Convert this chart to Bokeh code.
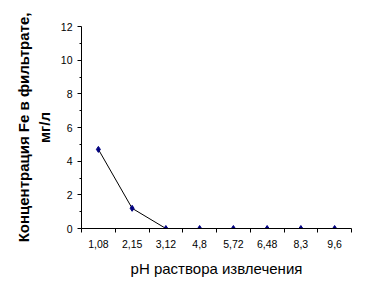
from bokeh.plotting import figure
from bokeh.models import FixedTicker, Range1d, ColumnDataSource
from bokeh.embed import file_html
from bokeh.resources import INLINE

# Data
categories = ["1,08", "2,15", "3,12", "4,8", "5,72", "6,48", "8,3", "9,6"]
fe_values = [4.7, 1.2, 0.0, 0.0, 0.0, 0.0, 0.0, 0.0]
y_ticks = [0, 2, 4, 6, 8, 10, 12]
x_title = "pH раствора извлечения"
y_title = "Концентрация Fe в фильтрате,\nмг/л"

x_pos = [i + 0.5 for i in range(len(categories))]
src = ColumnDataSource(dict(x=x_pos, y=fe_values))

p = figure(width=368, height=297, output_backend="svg", toolbar_location=None,
           x_range=Range1d(0, len(categories)), y_range=Range1d(0, 12),
           min_border_left=81, min_border_right=17, min_border_top=26, min_border_bottom=69)
p.outline_line_color = None
p.xgrid.visible = False
p.ygrid.visible = False
p.background_fill_color = "white"
p.border_fill_color = "white"

p.line("x", "y", source=src, line_color="black", line_width=1)
p.scatter("x", "y", source=src, marker="diamond", size=6, fill_color="#000080", line_color="#000080")

# x axis: labels at centers, tick marks between categories
xa = p.xaxis[0]
xa.ticker = FixedTicker(ticks=x_pos, minor_ticks=list(range(len(categories) + 1)))
xa.major_label_overrides = {x: c for x, c in zip(x_pos, categories)}
xa.major_tick_out = 0
xa.major_tick_in = 0
xa.minor_tick_out = 4
xa.minor_tick_in = 0
xa.minor_tick_line_color = "black"
xa.axis_line_color = "black"
xa.major_label_text_font = "Liberation Sans"
xa.major_label_text_font_size = "10.5px"
xa.major_label_text_color = "black"
xa.major_label_standoff = 7
xa.axis_label = x_title
xa.axis_label_text_font = "Liberation Sans"
xa.axis_label_text_font_style = "normal"
xa.axis_label_text_font_size = "15px"
xa.axis_label_text_color = "black"
xa.axis_label_standoff = 9

ya = p.yaxis[0]
ya.ticker = FixedTicker(ticks=y_ticks, minor_ticks=[1, 3, 5, 7, 9, 11])
ya.major_tick_out = 4
ya.major_tick_in = 0
ya.minor_tick_out = 2
ya.minor_tick_in = 0
ya.axis_line_color = "black"
ya.major_tick_line_color = "black"
ya.minor_tick_line_color = "black"
ya.major_label_text_font = "Liberation Sans"
ya.major_label_text_font_size = "10.5px"
ya.major_label_text_color = "black"
ya.major_label_standoff = 5
ya.axis_label = y_title
ya.axis_label_text_font = "Liberation Sans"
ya.axis_label_text_font_style = "bold"
ya.axis_label_text_font_size = "15px"
ya.axis_label_text_color = "black"
ya.axis_label_standoff = 5

open("out.html", "w").write(file_html(p, INLINE))
